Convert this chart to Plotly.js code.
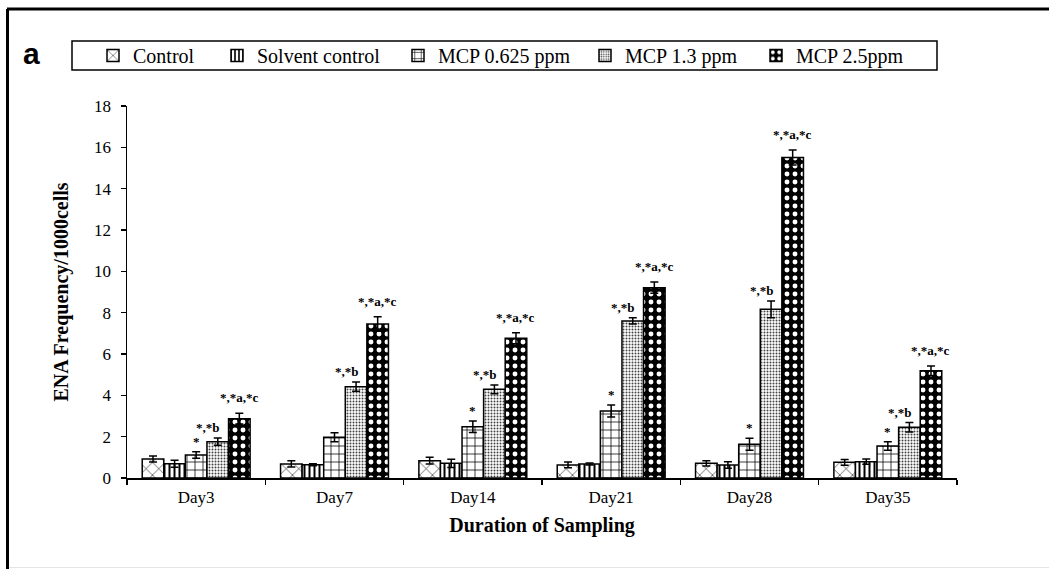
<!DOCTYPE html>
<html>
<head>
<meta charset="utf-8">
<script src="https://cdn.plot.ly/plotly-3.0.1.min.js"></script>
<style>
  html, body { margin: 0; padding: 0; background: #fff; }
  #chart { width: 1049px; height: 569px; }
</style>
</head>
<body>
<div id="chart"></div>
<script>
// Sampling days
const days = ['Day3', 'Day7', 'Day14', 'Day21', 'Day28', 'Day35'];

// ENA frequency per 1000 cells (mean) and error
const control      = [0.92, 0.68, 0.84, 0.63, 0.71, 0.76];
const controlErr   = [0.15, 0.15, 0.16, 0.14, 0.13, 0.14];
const solvent      = [0.69, 0.64, 0.71, 0.68, 0.63, 0.79];
const solventErr   = [0.17, 0.05, 0.20, 0.05, 0.16, 0.13];
const mcp0625      = [1.11, 1.97, 2.48, 3.24, 1.63, 1.55];
const mcp0625Err   = [0.16, 0.22, 0.28, 0.29, 0.29, 0.21];
const mcp13        = [1.76, 4.42, 4.29, 7.60, 8.16, 2.45];
const mcp13Err     = [0.17, 0.22, 0.21, 0.15, 0.40, 0.23];
const mcp25        = [2.87, 7.45, 6.76, 9.21, 15.51, 5.19];
const mcp25Err     = [0.26, 0.35, 0.27, 0.27, 0.36, 0.23];

// Significance marks
const sig0625 = ['*', '', '*', '*', '*', '*'];
const sig13   = ['*,*b', '*,*b', '*,*b', '*,*b', '*,*b', '*,*b'];
const sig25   = ['*,*a,*c', '*,*a,*c', '*,*a,*c', '*,*a,*c', '*,*a,*c', '*,*a,*c'];

const seriesNames = ['Control', 'Solvent control', 'MCP 0.625 ppm', 'MCP 1.3 ppm', 'MCP 2.5ppm'];

const serif = 'Liberation Serif';
const bargap = 0.22;

const patterns = [
  { shape: 'x', size: 9, solidity: 0.12, fgcolor: '#000', bgcolor: '#fff' },
  { shape: '|', size: 5, solidity: 0.4, fgcolor: '#000', bgcolor: '#fff' },
  { shape: '+', size: 8, solidity: 0.18, fgcolor: '#000', bgcolor: '#fff' },
  { shape: '.', size: 3, solidity: 0.35, fgcolor: '#444', bgcolor: '#fff' },
  { shape: '.', size: 8, solidity: 0.3, fgcolor: '#fff', bgcolor: '#000' }
];

const values = [control, solvent, mcp0625, mcp13, mcp25];
const errors = [controlErr, solventErr, mcp0625Err, mcp13Err, mcp25Err];

// One legend per series so each entry sits at its own spot inside the key box
const legendIds = ['legend', 'legend2', 'legend3', 'legend4', 'legend5'];

const traces = values.map((v, i) => ({
  type: 'bar',
  name: seriesNames[i],
  legend: legendIds[i],
  x: days,
  y: v,
  error_y: { type: 'data', array: errors[i], visible: true, color: '#000', thickness: 1.5, width: 4 },
  marker: {
    color: patterns[i].bgcolor,
    line: { color: '#000', width: 1.5 },
    pattern: Object.assign({ fillmode: 'replace' }, patterns[i])
  }
}));

// Labels above the bars, positioned at each bar's slot in the group
const slot = (1 - bargap) / 5;
const annotations = [];
function addLabels(labels, seriesIdx, yshift, xshift) {
  labels.forEach((t, d) => {
    if (!t) return;
    annotations.push({
      xref: 'x', yref: 'y',
      x: d + (seriesIdx - 2) * slot,
      y: values[seriesIdx][d] + errors[seriesIdx][d],
      text: '<b>' + t + '</b>', showarrow: false,
      yanchor: 'bottom', yshift: yshift, xshift: xshift,
      font: { family: serif, size: 13, color: '#000' }
    });
  });
}
addLabels(sig0625, 2, 1, 0);
addLabels(sig13, 3, 1, -10);
addLabels(sig25, 4, 6, 0);

// Pixel-to-paper helpers for the frame and legend box
const L = 127, R = 92, T = 106, B = 91, W = 1049, H = 569;
const pw = W - L - R, ph = H - T - B;
const px = v => (v - L) / pw;
const py = v => (H - B - v) / ph;

// Panel letter
annotations.push({
  xref: 'paper', yref: 'paper', x: px(21), y: py(54),
  xanchor: 'left', yanchor: 'middle', showarrow: false,
  text: '<b>a</b>', font: { family: 'Liberation Sans', size: 30, color: '#000' }
});

const shapes = [
  { type: 'rect', xref: 'paper', yref: 'paper', x0: px(72), x1: px(937), y0: py(70), y1: py(41),
    line: { color: '#000', width: 1.5 }, fillcolor: 'rgba(0,0,0,0)' },
  { type: 'line', xref: 'paper', yref: 'paper', x0: px(7), x1: px(1049), y0: py(9), y1: py(9),
    line: { color: '#000', width: 3 } },
  { type: 'line', xref: 'paper', yref: 'paper', x0: px(7.5), x1: px(7.5), y0: py(9), y1: py(569),
    line: { color: '#000', width: 3 } },
  { type: 'line', xref: 'paper', yref: 'paper', x0: px(9), x1: px(1049), y0: py(567.5), y1: py(567.5),
    line: { color: '#e4e4e4', width: 1 } }
];

const legendLeft = [93, 217, 398, 585, 756];

const layout = {
  width: W, height: H,
  margin: { l: L, r: R, t: T, b: B, pad: 0 },
  paper_bgcolor: '#fff', plot_bgcolor: '#fff',
  barmode: 'group', bargap: bargap, bargroupgap: 0,
  font: { family: serif, color: '#000' },
  showlegend: true,
  xaxis: {
    type: 'category', tickson: 'boundaries', ticks: 'outside', ticklen: 5, tickwidth: 1.5, tickcolor: '#000',
    showline: true, linecolor: '#000', linewidth: 1.5, showgrid: false, zeroline: false,
    tickfont: { family: serif, size: 17, color: '#000' }, ticklabelstandoff: 3,
    title: { text: '<b>Duration of Sampling</b>', font: { family: serif, size: 20, color: '#000' }, standoff: 12 },
    automargin: false
  },
  yaxis: {
    range: [0, 18], dtick: 2, ticks: 'outside', ticklen: 5, tickwidth: 1.5, tickcolor: '#000',
    showline: true, linecolor: '#000', linewidth: 1.5, showgrid: false, zeroline: false,
    tickfont: { family: serif, size: 17, color: '#000' }, ticklabelstandoff: 6,
    title: { text: '<b>ENA Frequency/1000cells</b>', font: { family: serif, size: 20, color: '#000' }, standoff: 20 },
    automargin: false
  },
  annotations: annotations,
  shapes: shapes
};

legendIds.forEach((id, i) => {
  layout[id] = {
    orientation: 'h', x: px(legendLeft[i]), y: py(55.5), xanchor: 'left', yanchor: 'middle',
    bgcolor: 'rgba(0,0,0,0)', borderwidth: 0,
    font: { family: serif, size: 20, color: '#000' },
    itemwidth: 30
  };
});

Plotly.newPlot('chart', traces, layout, { displayModeBar: false, staticPlot: true });
</script>
</body>
</html>
